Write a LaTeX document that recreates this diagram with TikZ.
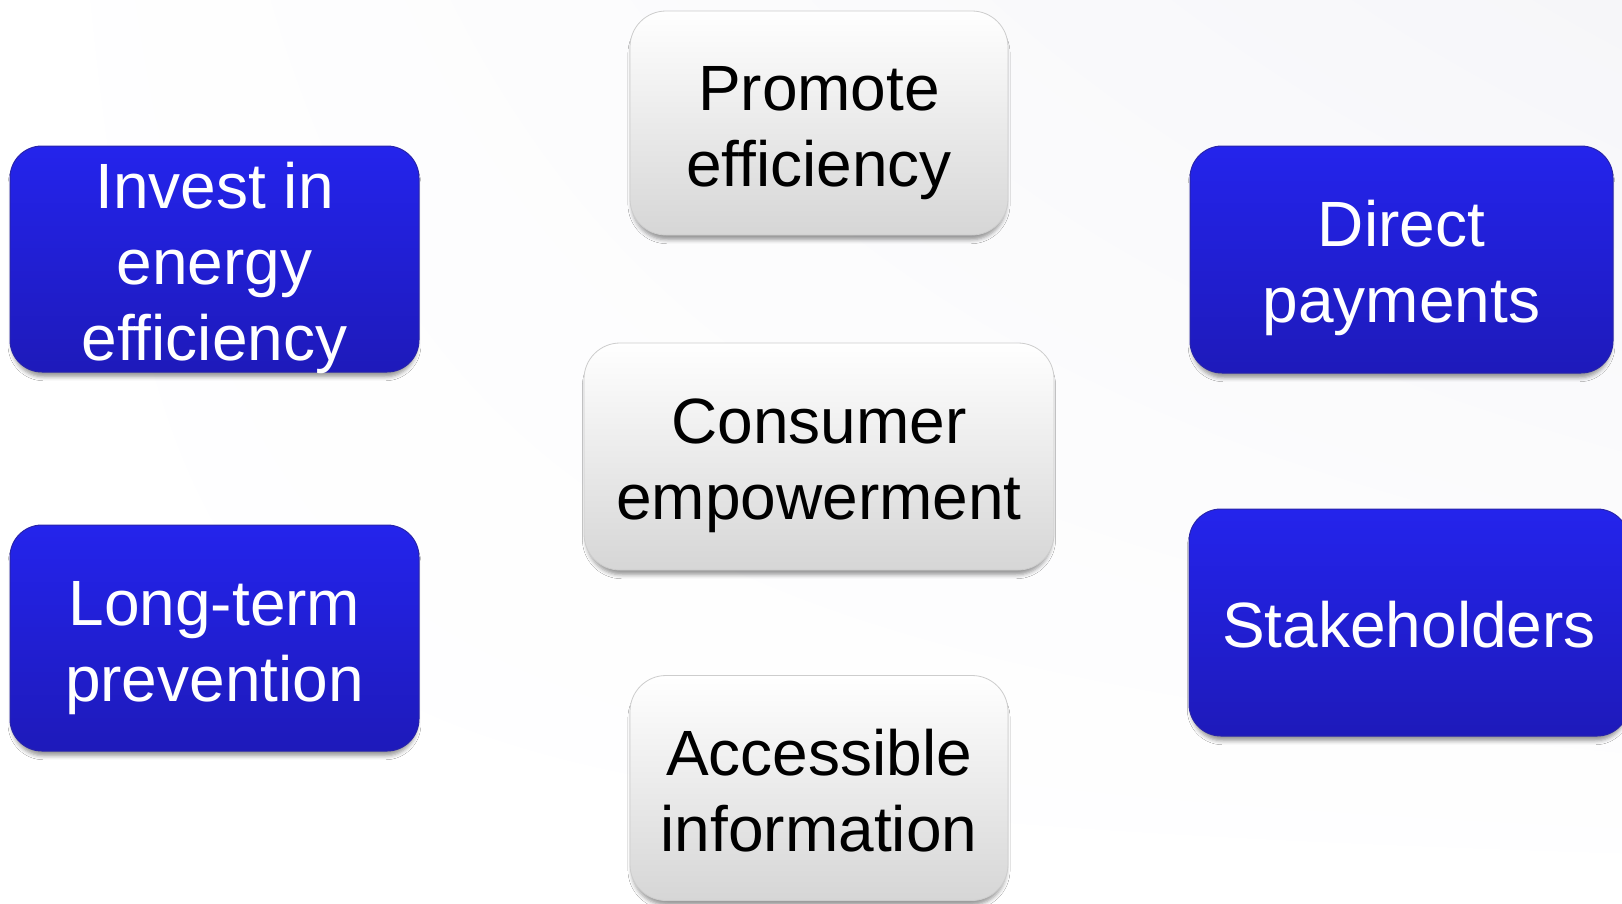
\documentclass[tikz,border=0pt]{standalone}
\usepackage{fontspec}
\setmainfont{Liberation Sans}
\usetikzlibrary{shadows.blur,shadings}
\newcommand{\ls}{\rule[-14pt]{0pt}{78pt}}
\newcommand{\boxfont}{\fontsize{64}{76}\selectfont\lineskiplimit=-500pt\lineskip=0pt}
\definecolor{bluetop}{RGB}{36,36,236}
\definecolor{bluebot}{RGB}{30,26,186}
\definecolor{blueedge}{RGB}{40,36,170}
\definecolor{graybot}{RGB}{214,214,214}
\definecolor{graymid}{RGB}{243,243,243}
\definecolor{grayedge}{RGB}{205,205,205}
\definecolor{bgtr}{RGB}{246,246,249}
\tikzset{
  shad/.style={blur shadow={shadow xshift=0pt,shadow yshift=-6pt,shadow blur radius=4pt,shadow opacity=40,shadow scale=0.99}},
  bluebox/.style={shad, inner sep=0pt, rounded corners=32pt, top color=bluetop, bottom color=bluebot, draw=blueedge, line width=1pt},
  graybox/.style={shad, inner sep=0pt, rounded corners=36pt, top color=white, middle color=graymid, bottom color=graybot, draw=grayedge, line width=0.8pt},
  boxtext/.style={inner sep=0pt, align=center, font=\boxfont},
  bluetext/.style={boxtext, text=white},
  graytext/.style={boxtext, text=black}
}
\begin{document}
\begin{tikzpicture}[x=1pt,y=-1pt]
\useasboundingbox (0,0) rectangle (1622,903);
\shade[upper left=white, lower left=white, upper right=bgtr, lower right=white] (0,0) rectangle (1622,903);

% blue boxes
\node[bluebox, minimum width=409pt, minimum height=226pt] (inv) at (214.5,259) {};
\node[bluetext] (invt) at (inv.center) {\ls Invest in\\ \ls energy\\ \ls efficiency};

\node[bluebox, minimum width=409pt, minimum height=226pt] (lt) at (214.5,638) {};
\node[bluetext] (ltt) at (lt.center) {\ls Long-term\\ \ls prevention};

\node[bluebox, minimum width=423pt, minimum height=227pt] (dp) at (1401.5,259.5) {};
\node[bluetext] (dpt) at (dp.center) {\ls Direct\\ \ls payments};

\node[bluebox, minimum width=440pt, minimum height=227pt] (sh) at (1409,622.5) {};
\node[bluetext] (sht) at (sh.center) {\ls Stakeholders};

% gray boxes
\node[graybox, minimum width=378pt, minimum height=224pt] (pro) at (819,123) {};
\node[graytext] (prot) at (pro.center) {\ls Promote\\ \ls efficiency};

\node[graybox, minimum width=470pt, minimum height=227pt] (con) at (819,456.5) {};
\node[graytext] (cont) at (con.center) {\ls Consumer\\ \ls empowerment};

\node[graybox, minimum width=378pt, minimum height=225pt] (acc) at (819,788) {};
\node[graytext] (acct) at (acc.center) {\ls Accessible\\ \ls information};
\end{tikzpicture}
\end{document}
